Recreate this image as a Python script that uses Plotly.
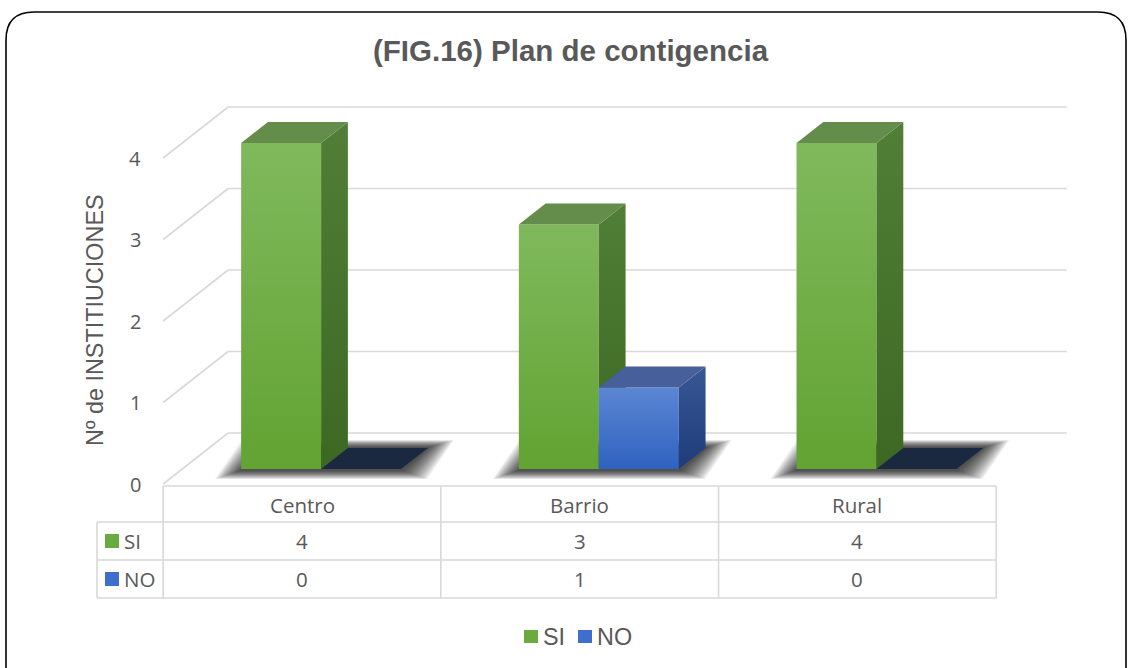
import plotly.graph_objects as go

# ---------------- data ----------------
categories = ["Centro", "Barrio", "Rural"]
series_names = ["SI", "NO"]
si_values = [4, 3, 4]
no_values = [0, 1, 0]
y_ticks = [0, 1, 2, 3, 4]
title_text = "(FIG.16) Plan de contigencia"
y_title = "Nº de INSTITIUCIONES"

# ---------------- geometry / style ----------------
W, H = 1131, 668
X_PX0, X_PX_PER = 302.0, 277.7     # front plane: category 0 centre, px per category
Y_PX0, Y_PX_PER = 484.0, 81.5      # front plane: value 0, px per unit
x_range = [(0 - X_PX0) / X_PX_PER, (W - X_PX0) / X_PX_PER]
y_range = [(Y_PX0 - H) / Y_PX_PER, Y_PX0 / Y_PX_PER]

DX = 65 / X_PX_PER      # x shift for full depth
DY = 51 / Y_PX_PER      # y shift for full depth
D1, D2 = 0.294, 0.706   # bar depth interval
BW = 0.288              # bar width (category units)

GRID = "#d9d9d9"
TXT = "#595959"
ARIAL = "Liberation Sans, Arial"

styles = {
    "SI": dict(front=("#62a332", "#80b95c"), side=("#3c6823", "#517f37"),
               top="#648c4a", flat="#1b2940", legend="#6aab3f"),
    "NO": dict(front=("#2f62c0", "#5b86d3"), side=("#1f3c7a", "#3a5795"),
               top="#475f9b", flat="#1b2940", legend="#3d6fcb"),
}


def px(x):
    return x / W


def py(y):
    return 1 - y / H


def data_to_px_x(x):
    return X_PX0 + X_PX_PER * x


fig = go.Figure()


def poly(xs, ys, color=None, grad=None, opacity=1.0):
    kw = {}
    if grad is not None:
        kw["fillgradient"] = dict(type="vertical",
                                  colorscale=[[0, grad[0]], [1, grad[1]]])
    else:
        kw["fillcolor"] = color
    fig.add_trace(go.Scatter(x=list(xs) + [xs[0]], y=list(ys) + [ys[0]],
                             fill="toself", mode="lines", line=dict(width=0),
                             opacity=opacity, hoverinfo="skip",
                             showlegend=False, **kw))


# ---------------- gridlines (back wall + left wall) ----------------
for v in y_ticks:
    fig.add_trace(go.Scatter(x=[-0.5 + DX, 2.52 + DX], y=[v + DY, v + DY],
                             mode="lines", line=dict(color=GRID, width=1.6),
                             hoverinfo="skip", showlegend=False))
    fig.add_trace(go.Scatter(x=[-0.5, -0.5 + DX], y=[v, v + DY],
                             mode="lines", line=dict(color=GRID, width=1.6),
                             hoverinfo="skip", showlegend=False))

a = D1 * DY
b = D2 * DY
e = (D2 - D1) * DX

# ---------------- soft shadows under each bar group ----------------
N_LAYERS = 16
for i, cat in enumerate(categories):
    c = i + D1 * DX
    fx0, fx1 = c - BW, c + BW
    for k in range(N_LAYERS):
        t = k / (N_LAYERS - 1)
        h = (26 - 24 * t) / X_PX_PER
        vd = (10 - 8 * t) / Y_PX_PER
        vu = (8 - 7 * t) / Y_PX_PER
        xs = [fx0 - h, fx1 + h, fx1 + e + h, fx0 + e - h]
        ys = [a - vd, a - vd, b + vu, b + vu]
        poly(xs, ys, color="rgb(0,0,0)", opacity=0.065)

# ---------------- 3-D bars ----------------
for i, cat in enumerate(categories):
    c = i + D1 * DX
    for s, (name, vals) in enumerate(zip(series_names, [si_values, no_values])):
        v = vals[i]
        st = styles[name]
        x0 = c - BW + s * BW
        x1 = x0 + BW
        if v == 0:
            poly([x0, x1, x1 + e, x0 + e], [a, a, b, b], color=st["flat"])
            continue
        # front face
        poly([x0, x1, x1, x0], [a, a, v + a, v + a], grad=st["front"])
        # side face
        poly([x1, x1 + e, x1 + e, x1], [a, b, v + b, v + a], grad=st["side"])
        # top face
        poly([x0, x1, x1 + e, x0 + e], [v + a, v + a, v + b, v + b],
             color=st["top"])

# ---------------- annotations & shapes ----------------
ann = []
shapes = []

# y tick labels
for v in y_ticks:
    ann.append(dict(x=px(143), y=v, xref="paper", yref="y", text=str(v),
                    showarrow=False, xanchor="right", yanchor="middle",
                    font=dict(family="Open Sans", size=20, color=TXT)))

# title
ann.append(dict(x=px(571), y=py(51), xref="paper", yref="paper",
                text="<b>" + title_text + "</b>", showarrow=False,
                xanchor="center", yanchor="middle",
                font=dict(family=ARIAL, size=29.5, color=TXT)))

# y axis title
ann.append(dict(x=px(95), y=py(320), xref="paper", yref="paper", text=y_title,
                textangle=-90, showarrow=False, xanchor="center",
                yanchor="middle",
                font=dict(family=ARIAL, size=23.4, color=TXT)))

# data table
row_tops = [486, 522, 560, 598]
col_edges = [data_to_px_x(i - 0.5) for i in range(len(categories) + 1)]
left_edge = 97
lw = dict(color=GRID, width=1.6)
shapes.append(dict(type="line", xref="paper", yref="paper",
                   x0=px(col_edges[0]), x1=px(col_edges[-1]),
                   y0=py(row_tops[0]), y1=py(row_tops[0]), line=lw))
for r in row_tops[1:]:
    shapes.append(dict(type="line", xref="paper", yref="paper",
                       x0=px(left_edge), x1=px(col_edges[-1]),
                       y0=py(r), y1=py(r), line=lw))
shapes.append(dict(type="line", xref="paper", yref="paper",
                   x0=px(left_edge), x1=px(left_edge),
                   y0=py(row_tops[1]), y1=py(row_tops[-1]), line=lw))
for cx in col_edges:
    shapes.append(dict(type="line", xref="paper", yref="paper",
                       x0=px(cx), x1=px(cx),
                       y0=py(row_tops[0]), y1=py(row_tops[-1]), line=lw))

tfont = dict(family="Open Sans", size=20.5, color=TXT)
for i, cat in enumerate(categories):
    ann.append(dict(x=i, y=py((row_tops[0] + row_tops[1]) / 2 + 1),
                    xref="x", yref="paper", text=cat, showarrow=False,
                    xanchor="center", yanchor="middle", font=tfont))
    for r, vals in enumerate([si_values, no_values]):
        ann.append(dict(x=i, y=py((row_tops[r + 1] + row_tops[r + 2]) / 2),
                        xref="x", yref="paper", text=str(vals[i]),
                        showarrow=False, xanchor="center", yanchor="middle",
                        font=tfont))

for r, name in enumerate(series_names):
    yc = (row_tops[r + 1] + row_tops[r + 2]) / 2
    shapes.append(dict(type="rect", xref="paper", yref="paper",
                       x0=px(105), x1=px(119), y0=py(yc - 7), y1=py(yc + 7),
                       fillcolor=styles[name]["legend"], line=dict(width=0)))
    ann.append(dict(x=px(122), y=py(yc), xref="paper", yref="paper",
                    text=name, showarrow=False, xanchor="left",
                    yanchor="middle", font=tfont))

# legend (bottom)
leg_x = [524, 578]
for name, lx in zip(series_names, leg_x):
    shapes.append(dict(type="rect", xref="paper", yref="paper",
                       x0=px(lx), x1=px(lx + 14), y0=py(643), y1=py(630),
                       fillcolor=styles[name]["legend"], line=dict(width=0)))
    ann.append(dict(x=px(lx + 17), y=py(637), xref="paper", yref="paper",
                    text=name, showarrow=False, xanchor="left",
                    yanchor="middle",
                    font=dict(family=ARIAL, size=23.4, color=TXT)))

# chart border (rounded)
r = 28
path = (f"M {px(6)},{py(H + 5)} L {px(6)},{py(12 + r)} "
        f"Q {px(6)},{py(12)} {px(6 + r)},{py(12)} "
        f"L {px(1126 - r)},{py(12)} "
        f"Q {px(1126)},{py(12)} {px(1126)},{py(12 + r)} "
        f"L {px(1126)},{py(H + 5)}")
shapes.append(dict(type="path", xref="paper", yref="paper", path=path,
                   line=dict(color="#000000", width=1.6)))

fig.update_layout(
    width=W, height=H, autosize=False,
    margin=dict(l=0, r=0, t=0, b=0),
    paper_bgcolor="white", plot_bgcolor="rgba(0,0,0,0)",
    showlegend=False,
    xaxis=dict(range=x_range, visible=False, fixedrange=True),
    yaxis=dict(range=y_range, visible=False, fixedrange=True),
    annotations=ann, shapes=shapes,
)

fig.write_html("out.html",
               config={"displayModeBar": False},
               post_script="document.body.style.margin='0px';"
                           "document.body.style.overflow='hidden';")
